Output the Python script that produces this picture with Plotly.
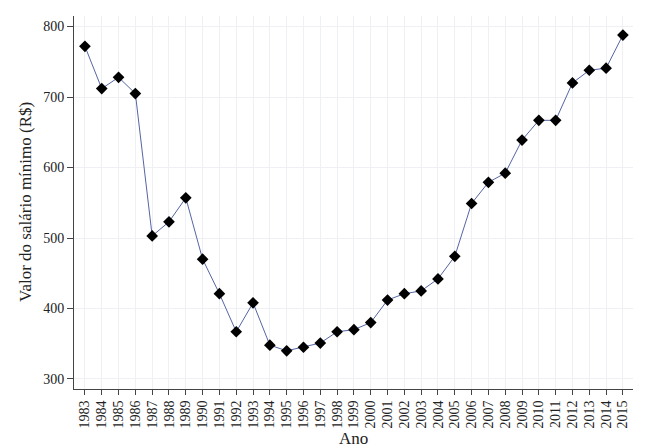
import plotly.graph_objects as go

years = list(range(1983, 2016))
salario = [772, 712, 728, 705, 503, 523, 557, 470, 421, 367, 408, 348, 340, 345,
           351, 367, 370, 380, 412, 421, 425, 442, 474, 549, 579, 592, 639, 667,
           667, 720, 738, 741, 788]
y_ticks = [300, 400, 500, 600, 700, 800]

fig = go.Figure(go.Scatter(
    x=years, y=salario, mode="lines+markers",
    line=dict(color="#5565a5", width=1),
    marker=dict(symbol="diamond", size=9, color="black"),
))

# page body has an 8px margin, so the figure is drawn 8px in from the top-left
fig.update_layout(
    width=642, height=440,
    margin=dict(l=66, r=17, t=8, b=59),
    plot_bgcolor="white", paper_bgcolor="white",
    font=dict(family="Liberation Serif, Times New Roman, serif", color="#222"),
    showlegend=False,
)
fig.update_xaxes(
    range=[1982.35, 2015.6], tickmode="array", tickvals=years,
    ticktext=[str(y) for y in years], tickangle=-90,
    ticks="outside", ticklen=5, tickcolor="#444",
    showline=True, linecolor="#444", linewidth=1,
    showgrid=True, gridcolor="#eef0f4", gridwidth=1,
    tickfont=dict(size=14), zeroline=False, automargin=False,
)
fig.update_yaxes(
    range=[285.8, 815], tickmode="array", tickvals=y_ticks,
    ticks="outside", ticklen=6, tickcolor="#444",
    showline=True, linecolor="#444", linewidth=1,
    showgrid=True, gridcolor="#eef0f4", gridwidth=1,
    tickfont=dict(size=14), zeroline=False, automargin=False,
)
fig.add_annotation(text="Ano", xref="paper", yref="paper", x=0.5, y=0,
                   xanchor="center", yanchor="top", yshift=-38,
                   showarrow=False, font=dict(size=17))
fig.add_annotation(text="Valor do salário mínimo (R$)", xref="paper", yref="paper",
                   x=0, y=0.5, xanchor="right", yanchor="middle", xshift=-37,
                   textangle=-90, showarrow=False, font=dict(size=17))

fig.write_html("out.html")
